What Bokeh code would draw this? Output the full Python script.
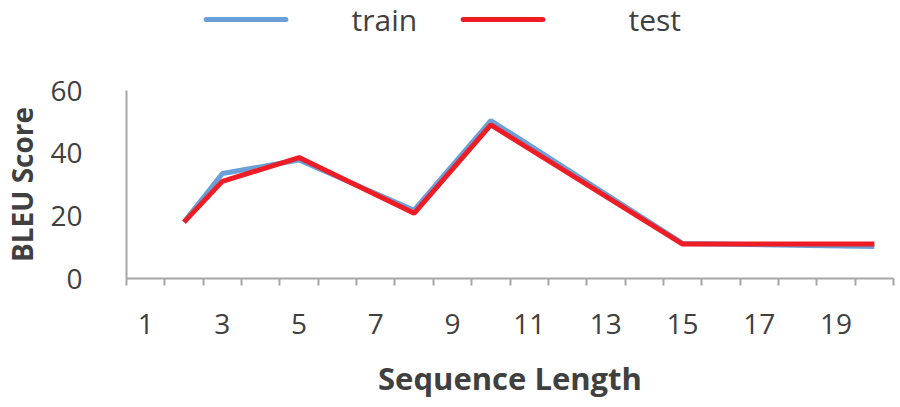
from bokeh.plotting import figure
from bokeh.models import FixedTicker, Range1d, ColumnDataSource
from bokeh.core.properties import value
from bokeh.layouts import column
from bokeh.embed import file_html
from bokeh.resources import INLINE

# data
seq_len = [2, 3, 5, 8, 10, 15, 20]
train = [18, 33.5, 37.8, 21.8, 50.4, 11.2, 10.2]
test = [18, 31, 38.6, 20.8, 49, 11, 11]
x_tick_labels = [1, 3, 5, 7, 9, 11, 13, 15, 17, 19]
y_ticks = [0, 20, 40, 60]
series_names = ["train", "test"]
series_colors = ["#6a9fd8", "#ee1c25"]

FONT = "Open Sans"
TXT = "#404040"
AXC = "#a6a6a6"
W = 900
LEG_H = 50
MAIN_H = 357
FRAME_L, FRAME_R = 123, 893   # page pixels of the plot frame

# ---- legend strip (pixel-space layout; its frame is aligned with the chart frame) ----
leg_swatch_x0 = [203, 461]
leg_swatch_len = 80
leg_text_x = [349, 627]
leg_y = 19

lg = figure(width=W, height=LEG_H, output_backend="svg", toolbar_location=None,
            x_range=Range1d(FRAME_L, FRAME_R), y_range=Range1d(LEG_H, 0),
            x_axis_type=None, y_axis_type=None,
            min_border_left=FRAME_L, min_border_right=W - FRAME_R,
            min_border_top=0, min_border_bottom=0)
lg.outline_line_color = None
lg.grid.grid_line_color = None
src = ColumnDataSource(dict(
    x0=leg_swatch_x0, x1=[x + leg_swatch_len for x in leg_swatch_x0],
    y=[leg_y] * 2, tx=leg_text_x, name=series_names, color=series_colors))
lg.segment(x0="x0", y0="y", x1="x1", y1="y", line_color="color", line_width=5,
           line_cap="round", source=src)
lg.text(x="tx", y="y", text="name", source=src, text_font=value(FONT),
        text_font_size="30px", text_color=TXT, text_baseline="middle", text_align="left")

# ---- main chart ----
p = figure(width=W, height=MAIN_H, output_backend="svg", toolbar_location=None,
           x_range=Range1d(0.5, 20.5), y_range=Range1d(0, 60),
           min_border_left=FRAME_L, min_border_right=W - FRAME_R,
           min_border_top=90 - LEG_H, min_border_bottom=MAIN_H - (278 - LEG_H))
p.outline_line_color = None
p.grid.grid_line_color = None

p.line(seq_len, train, line_color=series_colors[0], line_width=5)
p.line(seq_len, test, line_color=series_colors[1], line_width=5)

p.xaxis.ticker = FixedTicker(ticks=x_tick_labels, minor_ticks=[i + 0.5 for i in range(0, 21)])
p.xaxis.major_tick_line_color = None
p.xaxis.minor_tick_line_color = AXC
p.xaxis.minor_tick_line_width = 2
p.xaxis.minor_tick_out = 7
p.xaxis.minor_tick_in = 0
p.xaxis.major_label_standoff = 28
p.xaxis.axis_label = "Sequence Length"
p.xaxis.axis_label_standoff = 20
p.xaxis.axis_label_text_font_size = "31px"

p.yaxis.ticker = FixedTicker(ticks=y_ticks)
p.yaxis.minor_tick_line_color = None
p.yaxis.major_tick_line_color = AXC
p.yaxis.major_tick_out = 0
p.yaxis.major_tick_in = 0
p.yaxis.major_label_standoff = 44
p.yaxis.axis_label = "BLEU Score"
p.yaxis.axis_label_standoff = 6
p.yaxis.axis_label_text_font_size = "28px"

for ax in (p.xaxis, p.yaxis):
    ax.axis_line_color = AXC
    ax.axis_line_width = 2
    ax.major_label_text_font = FONT
    ax.major_label_text_font_size = "28px"
    ax.major_label_text_color = TXT
    ax.axis_label_text_font = FONT
    ax.axis_label_text_font_style = "bold"
    ax.axis_label_text_color = TXT

layout = column(lg, p, spacing=0)
open("out.html", "w").write(file_html(layout, INLINE))
